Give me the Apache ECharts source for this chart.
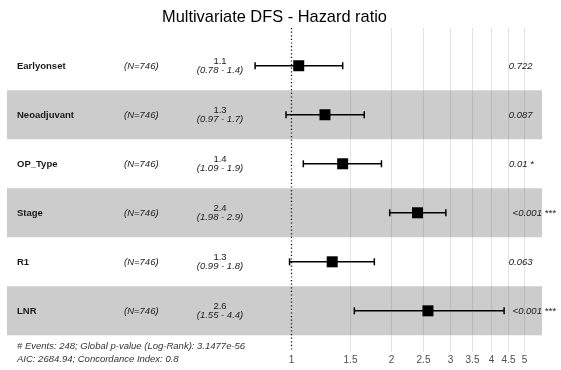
<!DOCTYPE html>
<html>
<head>
<meta charset="utf-8">
<script src="https://cdn.jsdelivr.net/npm/echarts@6/dist/echarts.min.js"></script>
<style>
    html, body { margin: 0; padding: 0; background: #fff; }
    #main { width: 561px; height: 370px; }
</style>
</head>
<body>
<div id="main"></div>
<script>
// forest plot data
var variables = ['Earlyonset', 'Neoadjuvant', 'OP_Type', 'Stage', 'R1', 'LNR'];
var counts = ['(N=746)', '(N=746)', '(N=746)', '(N=746)', '(N=746)', '(N=746)'];
var hazard = [1.055, 1.265, 1.43, 2.40, 1.33, 2.58];
var ciLow = [0.78, 0.966, 1.089, 1.98, 0.99, 1.55];
var ciHigh = [1.43, 1.66, 1.87, 2.92, 1.78, 4.37];
var hazardLabels = ['1.1', '1.3', '1.4', '2.4', '1.3', '2.6'];
var ciLabels = ['(0.78 - 1.4)', '(0.97 - 1.7)', '(1.09 - 1.9)', '(1.98 - 2.9)', '(0.99 - 1.8)', '(1.55 - 4.4)'];
var pLabels = ['0.722', '0.087', '0.01 *', '<0.001 ***', '0.063', '<0.001 ***'];
var xTicks = [1, 1.5, 2, 2.5, 3, 3.5, 4, 4.5, 5];
var footer = [
    '# Events: 248; Global p-value (Log-Rank): 3.1477e-56',
    'AIC: 2684.94; Concordance Index: 0.8'
];

var FONT = '"Liberation Sans", Arial, sans-serif';
var xMin = Math.exp((7 - 291) / 144.5);
var xMax = Math.exp((542 - 291) / 144.5);

var measure = document.createElement('canvas').getContext('2d');
measure.font = 'italic 9.5px ' + FONT;

var chart = echarts.init(document.getElementById('main'));

var rows = variables.map(function (v, i) { return [hazard[i], i]; });

var option = {
    animation: false,
    title: {
        text: 'Multivariate DFS - Hazard ratio',
        left: 157,
        top: 4,
        textStyle: { fontFamily: FONT, fontSize: 16.4, fontWeight: 'normal', color: '#000' }
    },
    grid: { left: 7, right: 19, top: 28, bottom: 18 },
    xAxis: {
        type: 'log',
        logBase: Math.E,
        min: xMin,
        max: xMax,
        show: false
    },
    yAxis: {
        type: 'value',
        inverse: true,
        min: -0.77,
        max: 5.84,
        show: false
    },
    series: [
        {
            // alternating grey bands
            type: 'custom',
            data: rows.filter(function (d, i) { return i % 2 === 1; }),
            renderItem: function (params, api) {
                var cs = params.coordSys;
                var top = api.coord([1, api.value(1) - 0.5])[1];
                var bottom = api.coord([1, api.value(1) + 0.5])[1];
                return {
                    type: 'rect',
                    shape: { x: cs.x, y: top, width: cs.width, height: bottom - top },
                    style: { fill: '#cccccc' }
                };
            },
            z: 1
        },
        {
            // vertical grid lines and tick labels
            type: 'custom',
            data: xTicks.map(function (t) { return [t, 0]; }),
            renderItem: function (params, api) {
                var cs = params.coordSys;
                var x = Math.round(api.coord([api.value(0), 0])[0]) + 0.5;
                var isRef = api.value(0) === 1;
                return {
                    type: 'group',
                    children: [
                        {
                            type: 'line',
                            shape: { x1: x, y1: cs.y, x2: x, y2: cs.y + cs.height },
                            style: isRef
                                ? { stroke: '#111', lineWidth: 1.3, lineDash: [1.2, 2.4] }
                                : { stroke: 'rgba(100,100,100,0.18)', lineWidth: 1 }
                        },
                        {
                            type: 'text',
                            x: x,
                            y: 360,
                            style: {
                                text: String(api.value(0)),
                                fill: '#4d4d4d',
                                font: '10px ' + FONT,
                                textAlign: 'center',
                                textVerticalAlign: 'middle'
                            }
                        }
                    ]
                };
            },
            z: 2
        },
        {
            // confidence intervals and point estimates
            type: 'custom',
            data: rows,
            renderItem: function (params, api) {
                var i = api.value(1);
                var c = api.coord([hazard[i], i]);
                var lo = api.coord([ciLow[i], i]);
                var hi = api.coord([ciHigh[i], i]);
                var st = { stroke: '#000', lineWidth: 1.5 };
                return {
                    type: 'group',
                    children: [
                        { type: 'line', shape: { x1: lo[0], y1: c[1], x2: hi[0], y2: c[1] }, style: st },
                        { type: 'line', shape: { x1: lo[0], y1: c[1] - 3.5, x2: lo[0], y2: c[1] + 3.5 }, style: st },
                        { type: 'line', shape: { x1: hi[0], y1: c[1] - 3.5, x2: hi[0], y2: c[1] + 3.5 }, style: st },
                        { type: 'rect', shape: { x: c[0] - 5.5, y: c[1] - 5.5, width: 11, height: 11 }, style: { fill: '#000' } }
                    ]
                };
            },
            z: 3
        },
        {
            // text columns
            type: 'custom',
            data: rows,
            clip: false,
            renderItem: function (params, api) {
                var i = api.value(1);
                var y = api.coord([1, i])[1];
                var pw = measure.measureText(pLabels[i]).width;
                function txt(x, dy, s, font, align) {
                    return {
                        type: 'text', x: x, y: y + dy,
                        style: { text: s, fill: '#1a1a1a', font: font, textAlign: align || 'left', textVerticalAlign: 'middle' }
                    };
                }
                return {
                    type: 'group',
                    children: [
                        txt(17, 0.5, variables[i], 'bold 9.5px ' + FONT),
                        txt(124, 0.5, counts[i], 'italic 9.5px ' + FONT),
                        txt(220, -4, hazardLabels[i], '9.5px ' + FONT, 'center'),
                        txt(220, 5, ciLabels[i], 'italic 9.5px ' + FONT, 'center'),
                        txt(504 + 0.2 * pw, 0.5, pLabels[i], 'italic 9.5px ' + FONT)
                    ]
                };
            },
            z: 4
        }
    ],
    graphic: footer.map(function (line, k) {
        return {
            type: 'text',
            left: 17,
            top: 341 + k * 13,
            style: { text: line, fill: '#333', font: 'italic 9.5px ' + FONT }
        };
    })
};

chart.setOption(option);
</script>
</body>
</html>
